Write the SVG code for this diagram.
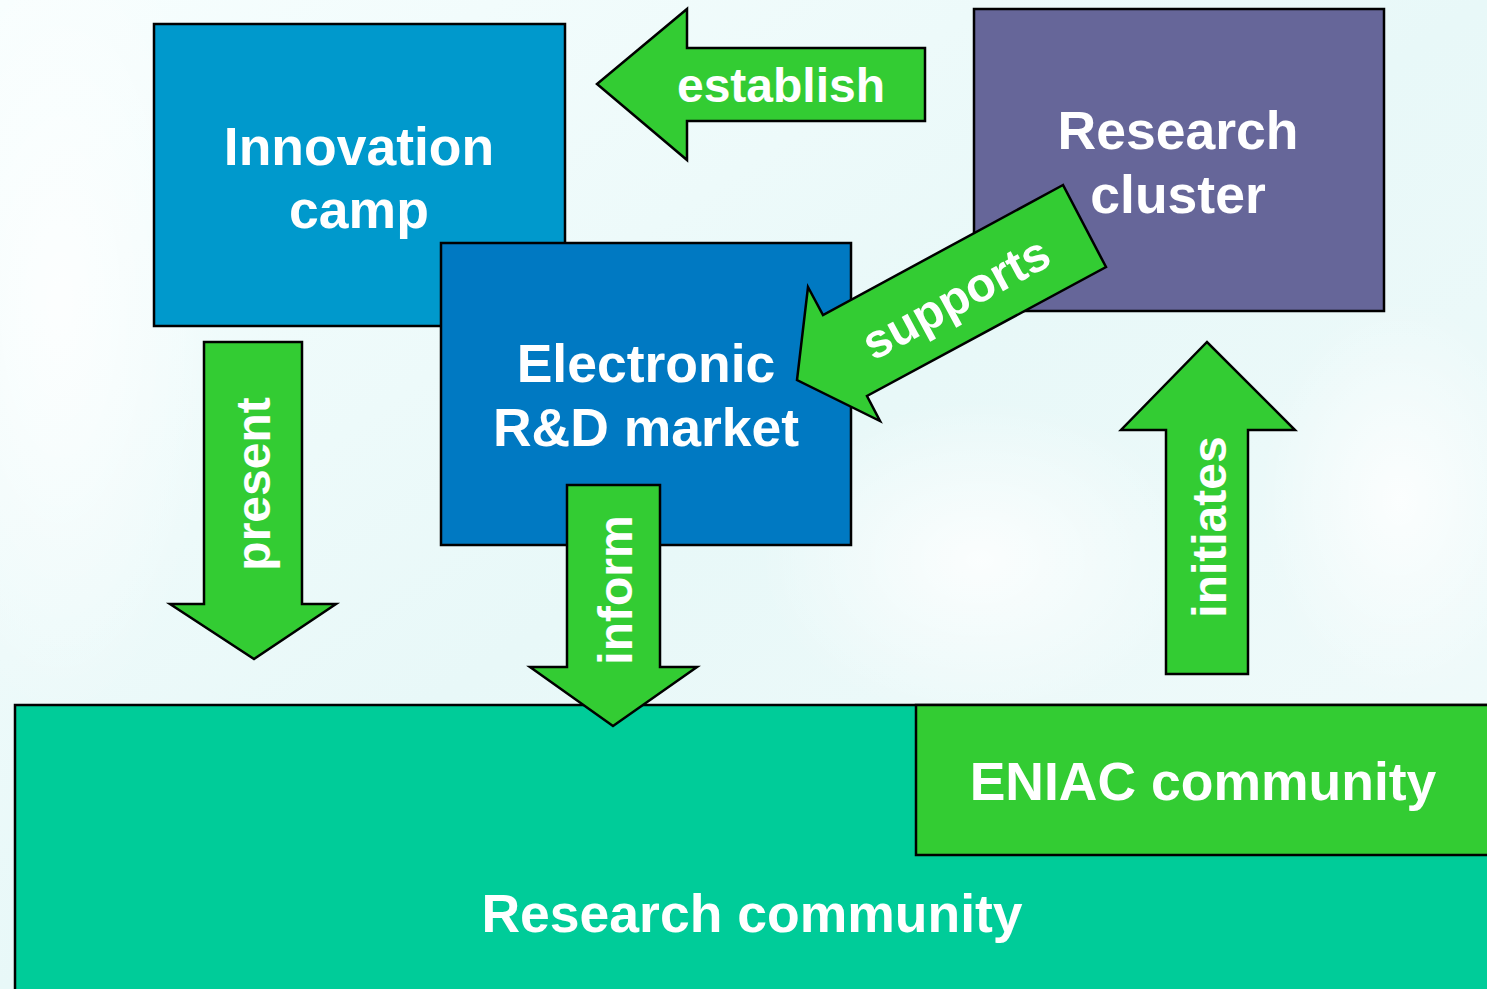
<svg xmlns="http://www.w3.org/2000/svg" width="1487" height="989" viewBox="0 0 1487 989">
  <defs>
    <linearGradient id="bg" x1="0" y1="0" x2="1" y2="1">
      <stop offset="0" stop-color="#f7fefe"/>
      <stop offset="0.5" stop-color="#e8f8f8"/>
      <stop offset="1" stop-color="#f2fbfb"/>
    </linearGradient>
    <radialGradient id="glow" cx="0.5" cy="0.5" r="0.5">
      <stop offset="0" stop-color="#ffffff" stop-opacity="0.8"/>
      <stop offset="1" stop-color="#ffffff" stop-opacity="0"/>
    </radialGradient>
    <style>
      .box { stroke: #000; stroke-width: 2.5; }
      .arrow { fill: #33cc33; stroke: #000; stroke-width: 2.5; stroke-linejoin: miter; }
      .t { font-family: "Liberation Sans", Arial, sans-serif; font-weight: bold; fill: #fff; text-anchor: middle; }
      .nt { font-size: 53.5px; }
      .lt { font-size: 48px; }
    </style>
  </defs>
  <rect x="0" y="0" width="1487" height="989" fill="url(#bg)"/>
  <ellipse cx="60" cy="300" rx="160" ry="420" fill="url(#glow)"/>
  <ellipse cx="980" cy="560" rx="220" ry="160" fill="url(#glow)"/>
  <ellipse cx="1400" cy="500" rx="140" ry="200" fill="url(#glow)"/>

  <g id="innovation-camp">
    <rect class="box" x="154" y="24" width="411" height="302" fill="#0099cc"/>
    <text class="t nt" x="359" y="165">Innovation</text>
    <text class="t nt" x="359" y="228">camp</text>
  </g>
  <g id="electronic-rd-market">
    <rect class="box" x="441" y="243" width="410" height="302" fill="#0079c2"/>
    <text class="t nt" x="646" y="382">Electronic</text>
    <text class="t nt" x="646" y="446">R&amp;D market</text>
  </g>
  <g id="research-cluster">
    <rect class="box" x="974" y="9" width="410" height="302" fill="#666699"/>
    <text class="t nt" x="1178" y="149">Research</text>
    <text class="t nt" x="1178" y="213">cluster</text>
  </g>
  <g id="research-community">
    <rect class="box" x="15" y="705" width="1490" height="300" fill="#00cc99"/>
    <text class="t nt" x="752" y="932">Research community</text>
  </g>
  <g id="eniac-community">
    <rect class="box" x="916" y="705" width="590" height="150" fill="#33cc33"/>
    <text class="t nt" x="1203" y="800">ENIAC community</text>
  </g>

  <g id="connectors">
    <g id="establish">
      <polygon class="arrow" points="925,48 687,48 687,9 597,84 687,160 687,121 925,121"/>
      <text class="t lt" x="781" y="102">establish</text>
    </g>
    <g id="supports">
      <polygon class="arrow" points="1063,185 823,315 808,287 797,380 880,421 867,396 1106,267"/>
      <text class="t lt" transform="translate(957,300) rotate(-28.4)" x="0" y="14">supports</text>
    </g>
    <g id="present">
      <polygon class="arrow" points="204,342 302,342 302,604 336,604 254,659 170,604 204,604"/>
      <text class="t lt" transform="translate(254,484) rotate(-90)" x="0" y="16">present</text>
    </g>
    <g id="inform">
      <polygon class="arrow" points="567,485 660,485 660,667 697,667 613,726 530,667 567,667"/>
      <text class="t lt" transform="translate(613,590) rotate(-90)" x="0" y="19">inform</text>
    </g>
    <g id="initiates">
      <polygon class="arrow" points="1166,674 1166,430 1121,430 1207,342 1295,430 1248,430 1248,674"/>
      <text class="t lt" transform="translate(1207,527) rotate(-90)" x="0" y="19">initiates</text>
    </g>
  </g>
</svg>
